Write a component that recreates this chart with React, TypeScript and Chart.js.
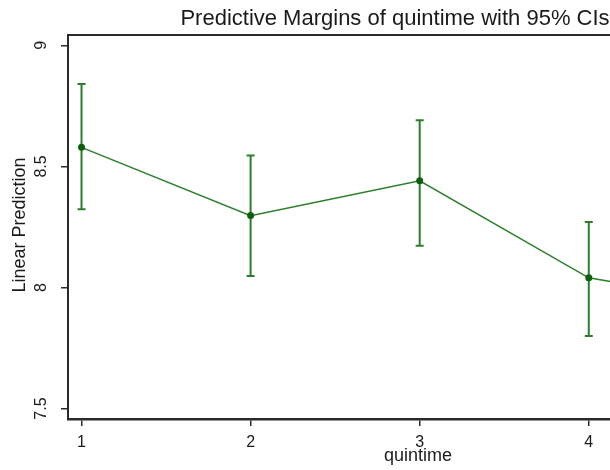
import React, { useEffect, useRef } from "react";
import { Chart, registerables } from "chart.js";

Chart.register(...registerables);

const quintime = [1, 2, 3, 4, 5];
const margins = [8.579, 8.297, 8.441, 8.04, 7.92];
const ciLow = [8.323, 8.048, 8.173, 7.8, 7.67];
const ciHigh = [8.841, 8.545, 8.691, 8.271, 8.17];
const xTicks = [1, 2, 3, 4, 5];
const yTicks = [7.5, 8, 8.5, 9];
const yTickLabels = ["7.5", "8", "8.5", "9"];

const TITLE = "Predictive Margins of quintime with 95% CIs";
const Y_TITLE = "Linear Prediction";
const X_TITLE = "quintime";

const FONT = "'Liberation Sans', Arial, sans-serif";
const TEXT = "#1a1a1a";
const AXIS = "#2a2a2a";
const LINE = "#2b7f2b";
const MARK = "#0d5f0d";

const W = 790;
const H = 470;

export default function App() {
  const ref = useRef<HTMLCanvasElement | null>(null);

  useEffect(() => {
    if (!ref.current) return;

    const textPlugin = {
      id: "stataText",
      afterDraw(chart: any) {
        const ctx = chart.ctx;
        const ca = chart.chartArea;
        const ys = chart.scales.y;
        ctx.save();
        ctx.fillStyle = TEXT;
        // main title
        ctx.font = `22px ${FONT}`;
        ctx.textAlign = "center";
        ctx.textBaseline = "alphabetic";
        ctx.fillText(TITLE, chart.width / 2, 25);
        // y tick labels (rotated)
        ctx.font = `16px ${FONT}`;
        yTicks.forEach((v, i) => {
          const py = ys.getPixelForValue(v);
          ctx.save();
          ctx.translate(46, py);
          ctx.rotate(-Math.PI / 2);
          ctx.textAlign = "center";
          ctx.fillText(yTickLabels[i], 0, 0);
          ctx.restore();
        });
        // y title
        ctx.font = `18px ${FONT}`;
        ctx.save();
        ctx.translate(25, (ca.top + ca.bottom) / 2 - 2);
        ctx.rotate(-Math.PI / 2);
        ctx.textAlign = "center";
        ctx.fillText(Y_TITLE, 0, 0);
        ctx.restore();
        // top border of plot region
        ctx.strokeStyle = AXIS;
        ctx.lineWidth = 2;
        ctx.beginPath();
        ctx.moveTo(ca.left, ca.top);
        ctx.lineTo(ca.right, ca.top);
        ctx.stroke();
        ctx.restore();
      },
    };

    const errPlugin = {
      id: "errBars",
      beforeDatasetsDraw(chart: any) {
        const ctx = chart.ctx;
        const xs = chart.scales.x;
        const ys = chart.scales.y;
        ctx.save();
        ctx.strokeStyle = LINE;
        ctx.lineWidth = 2;
        quintime.forEach((q, i) => {
          const px = xs.getPixelForValue(q);
          const pl = ys.getPixelForValue(ciLow[i]);
          const ph = ys.getPixelForValue(ciHigh[i]);
          ctx.beginPath();
          ctx.moveTo(px, pl);
          ctx.lineTo(px, ph);
          ctx.moveTo(px - 4, pl);
          ctx.lineTo(px + 4, pl);
          ctx.moveTo(px - 4, ph);
          ctx.lineTo(px + 4, ph);
          ctx.stroke();
        });
        ctx.restore();
      },
    };

    const chart = new Chart(ref.current, {
      type: "line",
      data: {
        datasets: [
          {
            data: quintime.map((q, i) => ({ x: q, y: margins[i] })),
            borderColor: LINE,
            borderWidth: 1.5,
            pointRadius: 3.5,
            pointBackgroundColor: MARK,
            pointBorderColor: MARK,
            pointBorderWidth: 0,
            tension: 0,
            clip: false as any,
          },
        ],
      },
      options: {
        animation: false,
        responsive: false,
        layout: { padding: { left: 61, right: 22, top: 35, bottom: 0 } },
        plugins: {
          legend: { display: false },
          title: { display: false },
          tooltip: { enabled: false },
        },
        scales: {
          x: {
            type: "linear",
            min: 0.92,
            max: 5.06,
            afterBuildTicks: (s: any) => {
              s.ticks = xTicks.map((v) => ({ value: v }));
            },
            ticks: {
              color: TEXT,
              font: { family: FONT, size: 16, lineHeight: 1 },
              padding: 9,
              maxRotation: 0,
              callback: (v: any) => String(v),
            },
            grid: {
              drawOnChartArea: false,
              drawTicks: true,
              tickLength: 7,
              color: AXIS,
              lineWidth: 1.5,
            },
            border: { display: true, color: AXIS, width: 2.5 },
            title: {
              display: true,
              text: X_TITLE,
              color: TEXT,
              font: { family: FONT, size: 18, lineHeight: 1 },
              padding: { top: -13, bottom: 5 },
            },
          },
          y: {
            type: "linear",
            min: 7.457,
            max: 9.043,
            afterBuildTicks: (s: any) => {
              s.ticks = yTicks.map((v) => ({ value: v }));
            },
            ticks: { display: false },
            grid: {
              drawOnChartArea: false,
              drawTicks: true,
              tickLength: 7,
              color: AXIS,
              lineWidth: 1.5,
            },
            border: { display: true, color: AXIS, width: 2 },
          },
        },
      },
      plugins: [errPlugin, textPlugin],
    });

    return () => chart.destroy();
  }, []);

  return (
    <div
      style={{
        position: "fixed",
        left: 0,
        top: 0,
        width: 610,
        height: 470,
        overflow: "hidden",
        background: "#fff",
      }}
    >
      <canvas
        ref={ref}
        width={W}
        height={H}
        style={{ display: "block", width: W, height: H }}
      />
    </div>
  );
}
